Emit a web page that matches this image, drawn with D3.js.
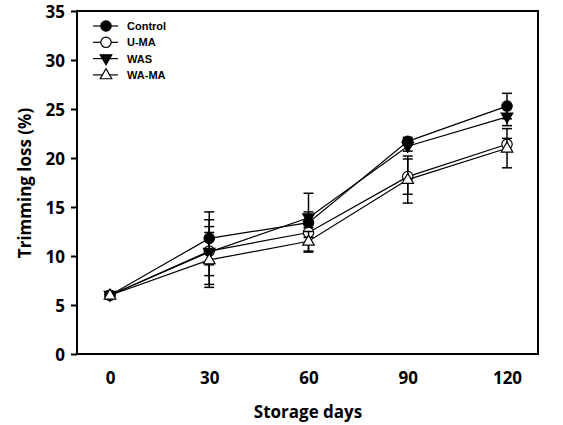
<!DOCTYPE html>
<html>
<head>
<meta charset="utf-8">
<script src="https://cdn.jsdelivr.net/npm/d3@7"></script>
<style>
  html, body { margin: 0; padding: 0; background: #fff; }
  svg { display: block; }
</style>
</head>
<body>
<svg id="chart" width="563" height="425"></svg>
<script>
const days = [0, 30, 60, 90, 120];
const yTicks = [0, 5, 10, 15, 20, 25, 30, 35];
const seriesNames = ["Control", "U-MA", "WAS", "WA-MA"];
const controlVals = [6.0, 11.8, 13.4, 21.7, 25.3];
const controlErr  = [0.1, 2.7, 3.0, 0.4, 1.3];
const umaVals = [6.0, 10.5, 12.4, 18.1, 21.4];
const umaErr  = [0.1, 2.5, 0.5, 1.8, 0.6];
const wasVals = [6.0, 10.4, 13.9, 21.2, 24.2];
const wasErr  = [0.1, 3.3, 0.6, 0.5, 0.9];
const wamaVals = [6.0, 9.6, 11.5, 17.8, 21.0];
const wamaErr  = [0.1, 2.8, 1.0, 2.4, 2.0];

const series = [
  { name: seriesNames[0], vals: controlVals, err: controlErr, type: "circle", fill: "#000" },
  { name: seriesNames[1], vals: umaVals, err: umaErr, type: "circle", fill: "#fff" },
  { name: seriesNames[2], vals: wasVals, err: wasErr, type: "tridown", fill: "#000" },
  { name: seriesNames[3], vals: wamaVals, err: wamaErr, type: "triup", fill: "#fff" }
];

const svg = d3.select("#chart");
const L = 77, R = 538, T = 11, B = 354;
const x = d3.scaleLinear().domain([0, 120]).range([110, 507]);
const y = d3.scaleLinear().domain([0, 35]).range([B, T]);
const font = "'Open Sans', sans-serif";

// Y axis
const ya = svg.append("g").attr("transform", `translate(${L},0)`)
  .call(d3.axisLeft(y).tickValues(yTicks).tickSize(6).tickPadding(6).tickFormat(d3.format("d")));
ya.select(".domain").remove();
ya.selectAll(".tick line").attr("stroke", "#000").attr("stroke-width", 2);
ya.selectAll(".tick text").attr("font-family", font).attr("font-weight", 700)
  .attr("font-size", 17).attr("fill", "#000").attr("dy", "0.36em");

// X axis
const xa = svg.append("g").attr("transform", `translate(0,${B})`)
  .call(d3.axisBottom(x).tickValues(days).tickSize(0).tickPadding(18).tickFormat(d3.format("d")));
xa.select(".domain").remove();
xa.selectAll(".tick text").attr("font-family", font).attr("font-weight", 700)
  .attr("font-size", 17).attr("fill", "#000");

// Frame
svg.append("rect").attr("x", L).attr("y", T).attr("width", R - L).attr("height", B - T)
  .attr("fill", "none").attr("stroke", "#000").attr("stroke-width", 2);

// Titles
svg.append("text").attr("x", 308).attr("y", 418).attr("text-anchor", "middle")
  .attr("font-family", font).attr("font-weight", 700).attr("font-size", 17).text("Storage days");
svg.append("text").attr("transform", "translate(31,183) rotate(-90)").attr("text-anchor", "middle")
  .attr("font-family", font).attr("font-weight", 700).attr("font-size", 17).text("Trimming loss (%)");

function marker(g, type, fill, cx, cy) {
  if (type === "circle") {
    g.append("circle").attr("cx", cx).attr("cy", cy).attr("r", 5.2)
      .attr("fill", fill).attr("stroke", "#000").attr("stroke-width", 1.2);
  } else {
    const p = d3.symbol().type(d3.symbolTriangle).size(58)();
    g.append("path").attr("d", p)
      .attr("transform", `translate(${cx},${cy + (type === "tridown" ? -0.5 : 0.5)}) rotate(${type === "tridown" ? 180 : 0})`)
      .attr("fill", fill).attr("stroke", "#000").attr("stroke-width", 1.2);
  }
}

const line = d3.line().x((d, i) => x(days[i])).y(d => y(d));
const cap = 5;
series.forEach(s => {
  const g = svg.append("g");
  g.append("path").attr("d", line(s.vals)).attr("fill", "none")
    .attr("stroke", "#000").attr("stroke-width", 1.2);
  s.vals.forEach((v, i) => {
    const cx = x(days[i]);
    const e = s.err[i];
    g.append("line").attr("x1", cx).attr("x2", cx).attr("y1", y(v + e)).attr("y2", y(v - e))
      .attr("stroke", "#000").attr("stroke-width", 1.5);
    [v + e, v - e].forEach(w => {
      g.append("line").attr("x1", cx - cap).attr("x2", cx + cap).attr("y1", y(w)).attr("y2", y(w))
        .attr("stroke", "#000").attr("stroke-width", 1.5);
    });
  });
  s.vals.forEach((v, i) => marker(g, s.type, s.fill, x(days[i]), y(v)));
});

// Legend
const leg = svg.append("g");
series.forEach((s, i) => {
  const ly = 26 + i * 16.3;
  leg.append("line").attr("x1", 93).attr("x2", 118).attr("y1", ly).attr("y2", ly)
    .attr("stroke", "#000").attr("stroke-width", 1.2);
  marker(leg, s.type, s.fill, 106, ly);
  leg.append("text").attr("x", 127).attr("y", ly + 4).attr("font-family", "'Liberation Sans', Arial, sans-serif")
    .attr("font-weight", 700).attr("font-size", 11).text(s.name);
});
</script>
</body>
</html>
